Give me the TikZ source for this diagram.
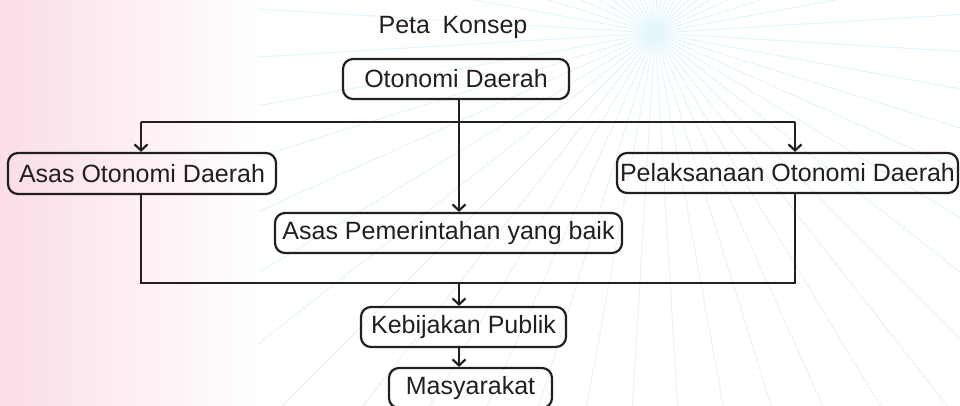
\documentclass[tikz,border=0pt]{standalone}
\usepackage{fontspec}
\setmainfont{Liberation Sans}
\usetikzlibrary{arrows.meta}
\definecolor{ink}{HTML}{231F20}
\definecolor{pinkbg}{RGB}{251,221,231}
\definecolor{raycol}{RGB}{228,245,252}
\begin{document}
\begin{tikzpicture}[x=1pt,y=-1pt,
  box/.style={draw=ink, line width=2.2pt, rounded corners=10pt, minimum height=40pt,
    inner sep=0pt, text=ink, font=\fontsize{25}{29}\selectfont},
  conn/.style={draw=ink, line width=2.2pt},
  arr/.style={conn, -{Straight Barb[length=6pt,width=13pt]}},
  rayline/.style={draw=raycol, line width=1.1pt}]
\useasboundingbox (0,0) rectangle (960,406);
\begin{scope}
  \clip (0,0) rectangle (960,406);
  \coordinate (sun) at (655,33);
  \foreach \k in {0,...,51}
    \draw[rayline] (sun) -- ++({273.46+\k*6.923}:1100);
  \shade[left color=pinkbg, right color=white] (0,0) rectangle (258,406);
\end{scope}

\node[text=ink, font=\fontsize{25}{29}\selectfont] (title) at (453,27) {Peta\hspace{0.5em}Konsep};
\node[box, minimum width=226pt] (oto) at (456,79) {Otonomi Daerah};
\node[box, minimum width=268pt, minimum height=41pt] (aod) at (142,173.5) {Asas Otonomi Daerah};
\node[box, minimum width=341pt] (pel) at (787.5,173) {Pelaksanaan Otonomi Daerah};
\node[box, minimum width=347pt] (pem) at (448.5,233) {Asas Pemerintahan yang baik};
\node[box, minimum width=205pt] (keb) at (463.5,327) {Kebijakan Publik};
\node[box, minimum width=163pt] (mas) at (470.5,388) {Masyarakat};

\coordinate (trunk) at (459,122);
\coordinate (hl) at (141,122);
\coordinate (hr) at (795,122);
\coordinate (bot) at (459,283);

\draw[arr] (oto.south -| trunk) -- (pem.north -| trunk);
\draw[conn] (hl) -- (hr);
\draw[arr] (hl) -- (hl |- aod.north);
\draw[arr] (hr) -- (hr |- pel.north);
\draw[conn] (hl |- aod.south) |- (bot) -| (hr |- pel.south);
\draw[arr] (bot) -- (keb.north -| bot);
\draw[arr] (keb.south -| bot) -- (mas.north -| bot);
\end{tikzpicture}
\end{document}
